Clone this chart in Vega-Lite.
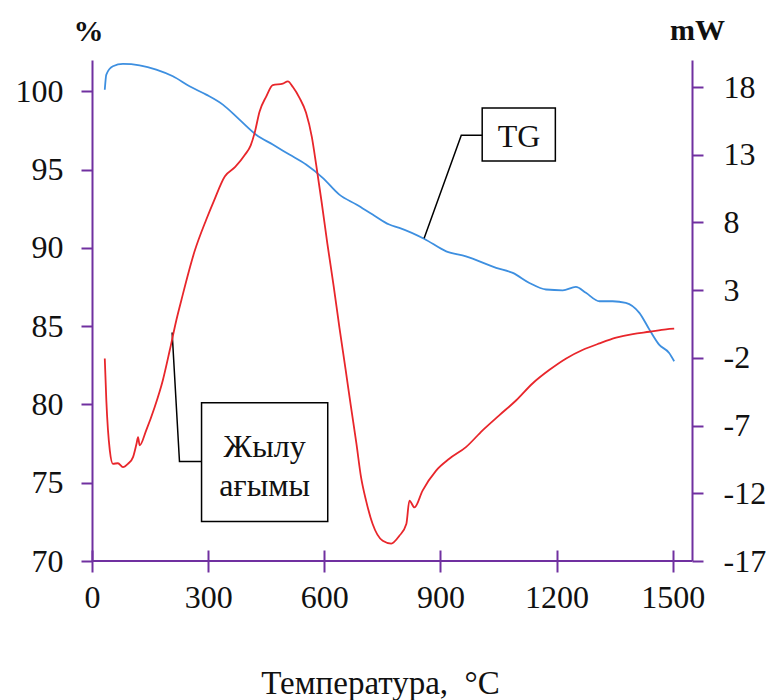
{
  "$schema": "https://vega.github.io/schema/vega-lite/v6.json",
  "width": 600,
  "height": 501,
  "autosize": {"type": "none"},
  "padding": {"left": 92, "top": 60, "right": 80, "bottom": 139},
  "background": "white",
  "config": {
    "view": {"stroke": null},
    "font": "Liberation Serif",
    "axis": {
      "grid": false,
      "domainColor": "#7030a0",
      "domainWidth": 2,
      "tickColor": "#7030a0",
      "tickWidth": 2,
      "tickSize": 11,
      "labelFlush": false,
      "labelFont": "Liberation Serif",
      "labelFontSize": 32,
      "labelColor": "#111111",
      "titleFont": "Liberation Serif",
      "titleColor": "#111111"
    }
  },
  "datasets": {
    "tg": [
      {"T": 33, "pct": 100.1}, {"T": 37, "pct": 101.07}, {"T": 54, "pct": 101.6}, {"T": 80, "pct": 101.75},
      {"T": 123, "pct": 101.66}, {"T": 166, "pct": 101.39}, {"T": 209, "pct": 100.96}, {"T": 252, "pct": 100.32},
      {"T": 295, "pct": 99.79}, {"T": 338, "pct": 99.15}, {"T": 381, "pct": 98.19}, {"T": 424, "pct": 97.23},
      {"T": 467, "pct": 96.6}, {"T": 510, "pct": 95.96}, {"T": 553, "pct": 95.32}, {"T": 596, "pct": 94.47},
      {"T": 639, "pct": 93.4}, {"T": 683, "pct": 92.77}, {"T": 725, "pct": 92.13}, {"T": 768, "pct": 91.49},
      {"T": 794, "pct": 91.28}, {"T": 859, "pct": 90.57}, {"T": 915, "pct": 89.78}, {"T": 966, "pct": 89.46},
      {"T": 1044, "pct": 88.72}, {"T": 1087, "pct": 88.4}, {"T": 1130, "pct": 87.76}, {"T": 1173, "pct": 87.34},
      {"T": 1216, "pct": 87.29}, {"T": 1250, "pct": 87.51}, {"T": 1276, "pct": 87.13}, {"T": 1311, "pct": 86.59},
      {"T": 1345, "pct": 86.59}, {"T": 1379, "pct": 86.49}, {"T": 1414, "pct": 85.85}, {"T": 1440, "pct": 84.78},
      {"T": 1465, "pct": 83.82}, {"T": 1491, "pct": 83.29}, {"T": 1504, "pct": 82.76}
    ],
    "dsc": [
      {"T": 33, "mw": -2.04}, {"T": 37, "mw": -5.13}, {"T": 46, "mw": -8.83}, {"T": 54, "mw": -9.82},
      {"T": 67, "mw": -9.78}, {"T": 80, "mw": -10.07}, {"T": 93, "mw": -9.82}, {"T": 106, "mw": -9.33},
      {"T": 115, "mw": -8.34}, {"T": 119, "mw": -7.85}, {"T": 123, "mw": -8.46}, {"T": 140, "mw": -7.35},
      {"T": 162, "mw": -5.63}, {"T": 183, "mw": -3.65}, {"T": 201, "mw": -1.42}, {"T": 218, "mw": 0.8},
      {"T": 231, "mw": 2.28}, {"T": 265, "mw": 5.87}, {"T": 295, "mw": 8.2}, {"T": 315, "mw": 9.6},
      {"T": 343, "mw": 11.4}, {"T": 370, "mw": 12.1}, {"T": 395, "mw": 13.0}, {"T": 410, "mw": 13.7},
      {"T": 420, "mw": 14.6}, {"T": 433, "mw": 16.2}, {"T": 450, "mw": 17.3}, {"T": 467, "mw": 18.15},
      {"T": 493, "mw": 18.25}, {"T": 506, "mw": 18.42}, {"T": 519, "mw": 18.0}, {"T": 536, "mw": 17.2},
      {"T": 553, "mw": 16.1}, {"T": 568, "mw": 14.3}, {"T": 579, "mw": 12.29}, {"T": 593, "mw": 9.55},
      {"T": 608, "mw": 6.44}, {"T": 624, "mw": 3.36}, {"T": 639, "mw": 0.28}, {"T": 655, "mw": -2.83},
      {"T": 668, "mw": -5.42}, {"T": 683, "mw": -8.32}, {"T": 695, "mw": -10.81}, {"T": 708, "mw": -12.54},
      {"T": 725, "mw": -14.27}, {"T": 751, "mw": -15.51}, {"T": 773, "mw": -15.71}, {"T": 794, "mw": -15.14},
      {"T": 812, "mw": -14.27}, {"T": 820, "mw": -12.54}, {"T": 833, "mw": -13.04}, {"T": 854, "mw": -11.8},
      {"T": 889, "mw": -10.32}, {"T": 923, "mw": -9.45}, {"T": 966, "mw": -8.59}, {"T": 1009, "mw": -7.35},
      {"T": 1052, "mw": -6.24}, {"T": 1096, "mw": -5.13}, {"T": 1138, "mw": -3.89}, {"T": 1181, "mw": -2.9},
      {"T": 1225, "mw": -2.04}, {"T": 1267, "mw": -1.42}, {"T": 1311, "mw": -0.93}, {"T": 1354, "mw": -0.51},
      {"T": 1397, "mw": -0.24}, {"T": 1440, "mw": -0.07}, {"T": 1483, "mw": 0.11}, {"T": 1504, "mw": 0.16}
    ],
    "boxes": [
      {"name": "TG", "T": 1008, "T2": 1197, "pct": 95.55, "pct2": 98.94},
      {"name": "heat", "T": 283, "T2": 609, "pct": 72.52, "pct2": 80.11}
    ],
    "leaders": [
      {"name": "TG", "seq": 1, "T": 1008, "pct": 97.2},
      {"name": "TG", "seq": 2, "T": 954, "pct": 97.2},
      {"name": "TG", "seq": 3, "T": 858, "pct": 90.62},
      {"name": "heat", "seq": 1, "T": 283, "pct": 76.35},
      {"name": "heat", "seq": 2, "T": 226, "pct": 76.35},
      {"name": "heat", "seq": 3, "T": 207, "pct": 84.6}
    ],
    "labels": [
      {"label": "TG", "T": 1103, "pct": 96.47},
      {"label": "Жылу", "T": 446, "pct": 76.67},
      {"label": "ағымы", "T": 446, "pct": 74.12}
    ]
  },
  "layer": [
    {
      "layer": [
        {
          "data": {"values": [{}]},
          "mark": {"type": "rule", "color": "#7030a0", "strokeWidth": 2},
          "encoding": {
            "y": {"datum": 70, "type": "quantitative"}
          }
        },
        {
          "data": {"name": "tg"},
          "mark": {"type": "line", "color": "#3d8fe0", "strokeWidth": 1.8, "interpolate": "monotone"},
          "encoding": {
            "x": {
              "field": "T", "type": "quantitative",
              "scale": {"domain": [0, 1550], "nice": false, "zero": false},
              "axis": {
                "orient": "bottom",
                "values": [0, 300, 600, 900, 1200, 1500],
                "labelExpr": "'' + datum.value",
                "domain": false,
                "offset": -11,
                "tickSize": 22,
                "labelPadding": 10,
                "labelAngle": 0,
                "title": "Температура,\u00a0 °C",
                "titleFontSize": 33,
                "titleFontWeight": "normal",
                "titleAnchor": "start",
                "titleAlign": "center",
                "titleBaseline": "alphabetic",
                "titleX": 288,
                "titleY": 143
              }
            },
            "y": {
              "field": "pct", "type": "quantitative",
              "scale": {"domain": [70, 102], "nice": false, "zero": false},
              "axis": {
                "orient": "left",
                "values": [70, 75, 80, 85, 90, 95, 100],
                "labelPadding": 18,
                "title": "%",
                "titleAngle": 0,
                "titleFontSize": 30,
                "titleFontWeight": "bold",
                "titleAlign": "center",
                "titleBaseline": "middle",
                "titleX": -4,
                "titleY": -29
              }
            }
          }
        },
        {
          "data": {"name": "boxes"},
          "mark": {"type": "rect", "fill": "white", "stroke": "black", "strokeWidth": 1.5},
          "encoding": {
            "x": {"field": "T", "type": "quantitative"},
            "x2": {"field": "T2"},
            "y": {"field": "pct", "type": "quantitative"},
            "y2": {"field": "pct2"}
          }
        },
        {
          "data": {"name": "leaders"},
          "mark": {"type": "line", "color": "black", "strokeWidth": 1.5},
          "encoding": {
            "x": {"field": "T", "type": "quantitative"},
            "y": {"field": "pct", "type": "quantitative"},
            "detail": {"field": "name"},
            "order": {"field": "seq", "type": "quantitative"}
          }
        },
        {
          "data": {"name": "labels"},
          "mark": {"type": "text", "font": "Liberation Serif", "fontSize": 32, "color": "#111111", "align": "center", "baseline": "alphabetic"},
          "encoding": {
            "x": {"field": "T", "type": "quantitative"},
            "y": {"field": "pct", "type": "quantitative"},
            "text": {"field": "label"}
          }
        }
      ]
    },
    {
      "data": {"name": "dsc"},
      "mark": {"type": "line", "color": "#e8262b", "strokeWidth": 1.8, "interpolate": "monotone"},
      "encoding": {
        "x": {"field": "T", "type": "quantitative"},
        "y": {
          "field": "mw", "type": "quantitative",
          "scale": {"domain": [-17, 20], "nice": false, "zero": false},
          "axis": {
            "orient": "right",
            "values": [-17, -12, -7, -2, 3, 8, 13, 18],
            "labelExpr": "'' + datum.value",
            "labelPadding": 20,
            "title": "mW",
            "titleAngle": 0,
            "titleFontSize": 30,
            "titleFontWeight": "bold",
            "titleAlign": "center",
            "titleBaseline": "middle",
            "titleX": 5,
            "titleY": -30
          }
        }
      }
    }
  ],
  "resolve": {"scale": {"y": "independent"}, "axis": {"y": "independent"}}
}
